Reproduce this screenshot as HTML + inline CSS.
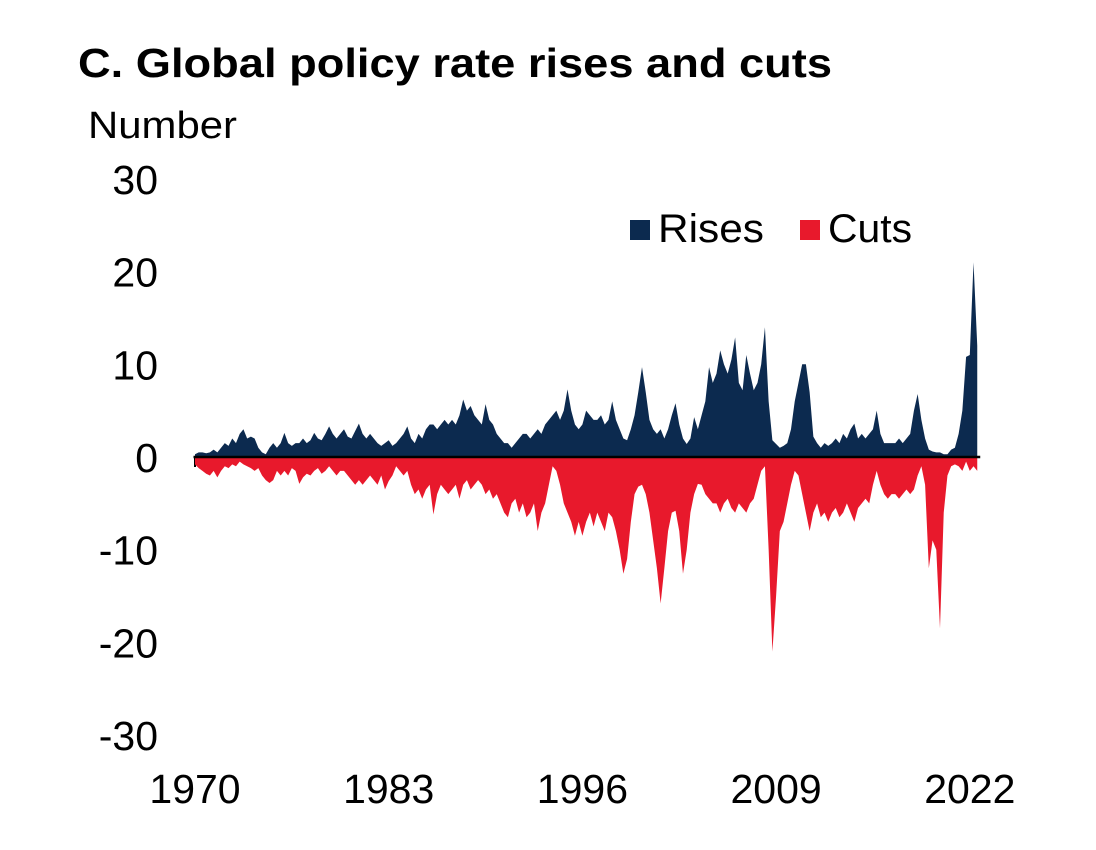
<!DOCTYPE html>
<html><head><meta charset="utf-8"><style>
html,body{margin:0;padding:0;background:#fff;}
svg{display:block;font-family:"Liberation Sans",Arial,sans-serif;}
</style></head><body>
<svg id="chart" width="1096" height="850" viewBox="0 0 1096 850" xmlns="http://www.w3.org/2000/svg">
<text x="78" y="77" font-size="41" font-weight="bold" textLength="754" lengthAdjust="spacingAndGlyphs" fill="#000">C. Global policy rate rises and cuts</text>
<text x="88" y="138" font-size="38" textLength="149" lengthAdjust="spacingAndGlyphs" fill="#000">Number</text>
<g id="yticks"></g>
<g id="xticks"></g>
<path id="rises" fill="#0c2a4f"/>
<path id="cuts" fill="#e8192c"/>
<line id="zero" stroke="#000" stroke-width="2.5"/>
<g>
<rect x="630" y="220" width="20" height="20" fill="#0c2a4f"/>
<text x="658" y="242" font-size="40" textLength="106" lengthAdjust="spacingAndGlyphs" fill="#000">Rises</text>
<rect x="800" y="220" width="20" height="20" fill="#e8192c"/>
<text x="828" y="242" font-size="40" textLength="84" lengthAdjust="spacingAndGlyphs" fill="#000">Cuts</text>
</g>
</svg>
<script>
const startYear = 1970;
const stepYears = 0.25;
const yTicks = [30,20,10,0,-10,-20,-30];
const xTicks = [1970,1983,1996,2009,2022];
const rises = [
.3,.5,.5,.4, .5,.8,.5,1, 1.5,1.2,2,1.5, 2.5,3,2,2.2, 2,1,.5,.3,
1,1.5,1,1.5, 2.6,1.5,1.2,1.5, 1.5,2,1.5,1.8, 2.6,2,1.8,2.5, 3.3,2.5,2,2.5,
3,2.2,2,2.8, 3.6,2.5,2,2.5, 2,1.5,1.2,1.5, 1.8,1.2,1.5,2, 2.5,3.3,2,1.5,
2.5,2,3,3.5, 3.5,3,3.5,4, 3.5,4,3.5,4.5, 6.2,5,5.5,4.5, 4,3.5,5.7,4,
3.5,2.5,2,1.5, 1.5,1,1.5,2, 2.5,2.5,2,2.5, 3,2.5,3.5,4, 4.5,5,4,5,
7.3,5,3.5,3, 3.5,5,4.5,4, 4,4.5,3.5,4, 6,4,3,2, 1.8,3,4.5,7,
9.7,7,4,3, 2.5,3,2,3, 4.5,5.8,3.5,2, 1.4,2,4.3,3, 4.5,6,9.7,8,
9,11.5,10,9, 10.5,12.9,8,7.2, 11,9,7.2,8, 10,14,6,1.8, 1.4,1,1.2,1.5,
3,6,8,10, 10,7,2.2,1.5, 1,1.5,1.2,1.5, 2,1.5,2.5,2, 3,3.6,2,2.5,
2,2.5,3,5, 2.5,1.5,1.5,1.5, 1.5,2,1.5,2, 2.5,5,6.8,4, 2,.8,.6,.5,
.5,.3,.3,.8, 1,2.5,5,10.8, 11,21,12
];
const cuts = [
-.8,-1.2,-1.5,-1.8, -2,-1.5,-2.2,-1.5, -1,-1.2,-.8,-1, -.5,-.8,-1,-1.2, -1.5,-1.2,-2,-2.5,
-2.8,-2.5,-1.5,-2, -1.5,-2,-1.2,-1.5, -2.9,-2.2,-1.8,-2, -1.5,-1.2,-1.8,-1.5, -1,-1.5,-2,-1.5,
-1.5,-2,-2.5,-3, -2.5,-3,-2.5,-2, -2.5,-3,-2,-3.5, -2.6,-2,-1,-1.5, -2,-1.5,-3,-4,
-3.5,-4.5,-3.5,-3, -6.2,-4,-3,-3.5, -4,-3.5,-3,-4.5, -3,-2.5,-3.5,-3, -2.5,-3,-4,-3.5,
-4.5,-4,-5,-6, -6.5,-5,-4.5,-6, -5,-6.5,-6,-5, -8,-6,-5,-3, -1,-1.5,-3,-5,
-6,-7,-8.5,-7, -8.5,-7,-6,-7.5, -6,-7,-8,-6, -6.5,-8,-10,-12.6, -11,-7,-4,-3.2,
-3,-4,-6,-9, -12,-15.8,-12,-8, -6,-5.8,-8,-12.6, -10,-6,-4,-2.9, -3,-4,-4.5,-5,
-5,-6,-5,-4.5, -5.5,-6,-5,-5.5, -6,-5,-4.5,-3, -1.5,-1,-10,-21, -15,-8,-7,-5,
-3,-1.5,-2,-4, -6,-8,-6,-5, -6.5,-6,-7,-6, -5.5,-6.5,-6,-5, -6,-7,-5.5,-5,
-4.5,-5,-3,-1.5, -3,-4,-4.5,-4, -4,-4.5,-4,-3.5, -4,-3.5,-2,-1, -3,-12,-9,-10,
-18.5,-6,-2,-1, -.8,-1,-1.5,-.5, -1.5,-1,-1.5
];
const X0 = 195, PXY = 14.9, Y0 = 457, PXU = 9.27;
function xs(yr){ return X0 + (yr - 1970) * PXY; }
function ys(v){ return Y0 - v * PXU; }
const NS = 'http://www.w3.org/2000/svg';
function area(vals){
  let d = 'M' + xs(startYear) + ',' + ys(0);
  vals.forEach((v,i)=>{ d += ' L' + xs(startYear + i*stepYears).toFixed(2) + ',' + ys(v).toFixed(2); });
  d += ' L' + xs(startYear + (vals.length-1)*stepYears).toFixed(2) + ',' + ys(0) + ' Z';
  return d;
}
document.getElementById('rises').setAttribute('d', area(rises));
document.getElementById('cuts').setAttribute('d', area(cuts));
const z = document.getElementById('zero');
z.setAttribute('x1', xs(1969.9)); z.setAttribute('x2', xs(2022.7));
z.setAttribute('y1', ys(0)); z.setAttribute('y2', ys(0));
const yg = document.getElementById('yticks');
yTicks.forEach(t=>{
  const el = document.createElementNS(NS,'text');
  
  
  el.setAttribute('x', 158); el.setAttribute('y', ys(t) + 15);
  el.setAttribute('text-anchor','end'); el.setAttribute('font-size','41');
  el.textContent = t;
  yg.appendChild(el);
});
const xg = document.getElementById('xticks');
xTicks.forEach(t=>{
  const el = document.createElementNS(NS,'text');
  
  
  el.setAttribute('x', xs(t)); el.setAttribute('y', 803);
  el.setAttribute('text-anchor','middle'); el.setAttribute('font-size','41');
  el.textContent = t;
  xg.appendChild(el);
  const tk = document.createElementNS(NS,'line');
  
  
  tk.setAttribute('x1', xs(t)); tk.setAttribute('x2', xs(t));
  tk.setAttribute('y1', ys(0)); tk.setAttribute('y2', ys(0)+10);
  tk.setAttribute('stroke', '#000'); tk.setAttribute('stroke-width', '2');
  xg.appendChild(tk);
});
</script>
</body></html>
